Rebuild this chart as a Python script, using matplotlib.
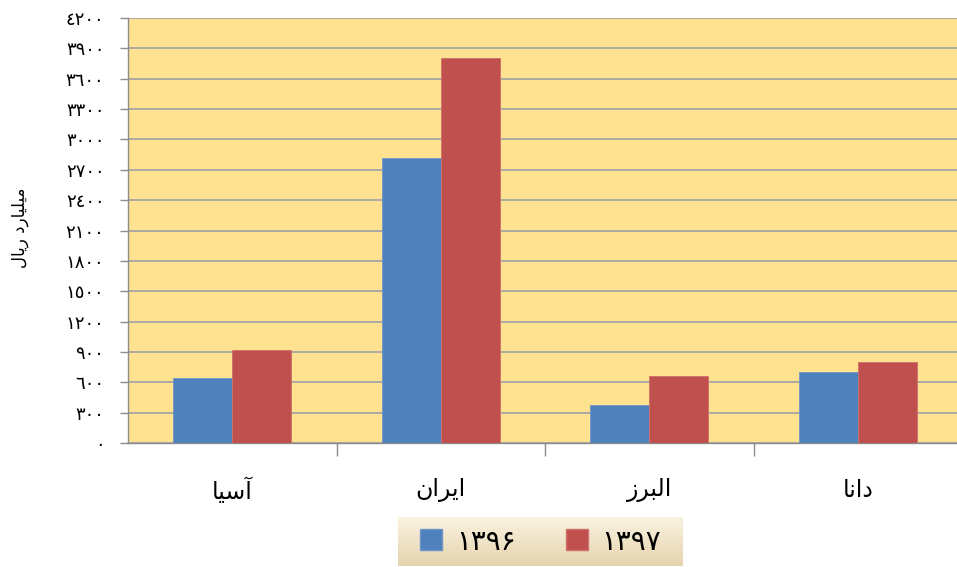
import numpy as np
import matplotlib
matplotlib.use("Agg")
import matplotlib.pyplot as plt
from matplotlib.patches import Patch

# ---------------- data ----------------
categories = ["آسیا", "ایران", "البرز", "دانا"]
series_names = ["۱۳۹۶", "۱۳۹۷"]
values_1396 = [640, 2820, 375, 700]
values_1397 = [915, 3800, 665, 800]
y_ticks = [0, 300, 600, 900, 1200, 1500, 1800, 2100, 2400, 2700, 3000, 3300, 3600, 3900, 4200]
y_title = "میلیارد ریال"

# ---------------- minimal Arabic shaping (presentation forms) ----------------
FORMS = {
    "\u0622": (0xFE81, 0xFE82, None, None),
    "\u0627": (0xFE8D, 0xFE8E, None, None),
    "\u0628": (0xFE8F, 0xFE90, 0xFE91, 0xFE92),
    "\u062F": (0xFEA9, 0xFEAA, None, None),
    "\u0631": (0xFEAD, 0xFEAE, None, None),
    "\u0632": (0xFEAF, 0xFEB0, None, None),
    "\u0633": (0xFEB1, 0xFEB2, 0xFEB3, 0xFEB4),
    "\u0644": (0xFEDD, 0xFEDE, 0xFEDF, 0xFEE0),
    "\u0645": (0xFEE1, 0xFEE2, 0xFEE3, 0xFEE4),
    "\u0646": (0xFEE5, 0xFEE6, 0xFEE7, 0xFEE8),
    "\u06CC": (0xFBFC, 0xFBFD, 0xFEF3, 0xFEF4),
}


def shape(text):
    out = []
    n = len(text)
    for i, ch in enumerate(text):
        if ch not in FORMS:
            out.append(ch)
            continue
        f = FORMS[ch]
        prev = text[i - 1] if i > 0 else None
        nxt = text[i + 1] if i + 1 < n else None
        join_prev = prev in FORMS and FORMS[prev][2] is not None
        join_next = f[2] is not None and nxt in FORMS
        if join_prev and join_next:
            code = f[3]
        elif join_prev:
            code = f[1]
        elif join_next:
            code = f[2]
        else:
            code = f[0]
        out.append(chr(code))
    return "".join(out[::-1])


def arabic_digits(v):
    return "".join(chr(0x0660 + int(d)) for d in str(v))


# ---------------- figure ----------------
plt.rcParams["font.family"] = ["DejaVu Sans"]
W, H = 957, 567
fig = plt.figure(figsize=(W / 100, H / 100), dpi=100)
fig.patch.set_facecolor("white")

ax = fig.add_axes([128 / W, 1 - 443 / H, (957 - 128) / W, 425 / H])
ax.set_facecolor("#fee28f")

blue = "#4f81bd"
red = "#c0504d"
x = np.arange(len(categories))
bw = 0.284
ax.bar(x - bw / 2, values_1396, bw, color=blue, edgecolor="#6f95c8", linewidth=0.6, zorder=3)
ax.bar(x + bw / 2, values_1397, bw, color=red, edgecolor="#d0706c", linewidth=0.6, zorder=3)

ax.set_ylim(0, 4200)
ax.set_xlim(-0.5, -0.5 + 829 / 208.5)
ax.set_yticks(y_ticks)
ax.set_yticklabels([arabic_digits(v) for v in y_ticks], fontsize=13)
ax.yaxis.grid(True, color="#a6a6a6", linewidth=1.3, zorder=1)
ax.set_axisbelow(True)

ax.set_xticks(x)
ax.set_xticklabels([shape(c) for c in categories], fontsize=17)
ax.set_xticks(np.arange(0.5, len(categories) - 1, 1.0), minor=True)
ax.tick_params(axis="x", which="major", length=0, pad=25)
ax.tick_params(axis="x", which="minor", length=9, color="#8c8c8c", width=1)
ax.tick_params(axis="y", length=6, color="#8c8c8c", width=1, pad=11)

for s in ["top", "right"]:
    ax.spines[s].set_visible(False)
for s in ["left", "bottom"]:
    ax.spines[s].set_color("#8c8c8c")
    ax.spines[s].set_linewidth(1.0)

fig.text(20 / W, 1 - 228 / H, shape(y_title), rotation=90, ha="center", va="center", fontsize=12)

# legend with gradient background
lx0, ly0, lw, lh = 398, 517, 285, 49
lax = fig.add_axes([lx0 / W, 1 - (ly0 + lh) / H, lw / W, lh / H])
grad = np.linspace(0, 1, 100)[:, None]
c_top = np.array([0xfb, 0xf3, 0xe0]) / 255
c_bot = np.array([0xe4, 0xd3, 0xae]) / 255
img = c_top[None, None, :] * (1 - grad[..., None]) + c_bot[None, None, :] * grad[..., None]
img = np.repeat(img, 2, axis=1)
lax.imshow(img, aspect="auto", extent=[0, 1, 0, 1], origin="upper")
lax.axis("off")

handles = [Patch(facecolor=blue, edgecolor="#6f95c8"), Patch(facecolor=red, edgecolor="#d0706c")]
fig.legend(handles, series_names, loc="center",
           bbox_to_anchor=((lx0 + lw / 2) / W, 1 - (ly0 + lh / 2) / H),
           ncol=2, frameon=False, fontsize=20, handlelength=0.8, handleheight=0.8,
           columnspacing=1.8, handletextpad=0.5)

fig.savefig("out.png", dpi=100)
